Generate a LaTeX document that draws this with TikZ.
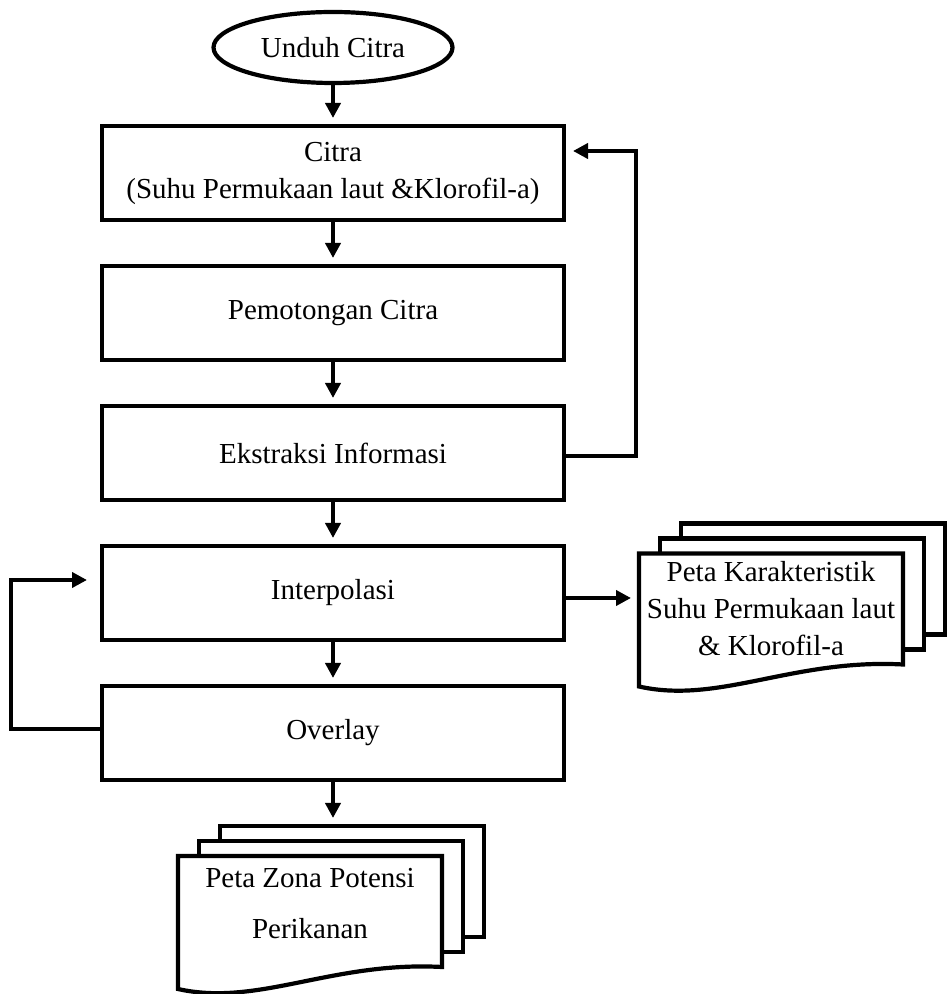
\documentclass[tikz,border=0pt]{standalone}
\usepackage{fontspec}
\setmainfont{Liberation Serif}
\usetikzlibrary{shapes, arrows, calc, positioning, backgrounds}
\usetikzlibrary{arrows.meta}

\begin{document}
\begin{tikzpicture}[
      x=1pt, y=1pt,
      node distance=46pt,
      every node/.style={font=\fontsize{29}{37}\selectfont, align=center, outer sep=0pt},
      start/.style={ellipse, draw, line width=4.2pt, minimum width=239pt, minimum height=71pt, inner sep=0pt},
      process/.style={rectangle, draw, line width=4.2pt, minimum width=462pt, minimum height=94pt, inner sep=0pt},
      docfront/.style={rectangle, minimum width=264pt, minimum height=111pt, inner sep=0pt},
      docline/.style={line width=4.2pt, fill=white},
      flow/.style={draw, -{Triangle[length=15pt, width=15pt]}, line width=4.2pt, shorten >=8pt}
    ]
    \useasboundingbox (0,0) rectangle (951,994);

    % Main flow
    \node[start] (unduh) at (333,946.5) {Unduh Citra};
    \node[process, below=43pt of unduh] (citra) {Citra\\(Suhu Permukaan laut \&Klorofil-a)};
    \node[process, below=of citra] (pemotongan) {Pemotongan Citra};
    \node[process, below=of pemotongan] (ekstraksi) {Ekstraksi Informasi};
    \node[process, below=of ekstraksi] (interpolasi) {Interpolasi};
    \node[process, below=of interpolasi] (overlay) {Overlay};

    % Output documents
    \node[docfront, right=75pt of interpolasi, yshift=-16pt] (karakteristik) {Peta Karakteristik\\Suhu Permukaan laut\\\& Klorofil-a};
    \node[docfront, below=76pt of overlay, xshift=-23pt] (zona) {};
    \node (zonateks) at ([yshift=8pt]zona.center) {Peta Zona Potensi\\[14pt]Perikanan};

    \begin{scope}[on background layer]
      \foreach \doc in {karakteristik, zona} {
        \draw[docline] ([shift={(42pt,30pt)}]\doc.south west) rectangle ([shift={(42pt,30pt)}]\doc.north east);
        \draw[docline] ([shift={(21pt,15pt)}]\doc.south west) rectangle ([shift={(21pt,15pt)}]\doc.north east);
        \draw[docline] (\doc.north west) -- ([yshift=-22pt]\doc.south west)
          .. controls +(80pt,-18pt) and +(-110pt,6pt) .. (\doc.south east) -- (\doc.north east) -- cycle;
      }
    \end{scope}

    % Arrows
    \draw[flow] (unduh) -- (citra);
    \draw[flow] (citra) -- (pemotongan);
    \draw[flow] (pemotongan) -- (ekstraksi);
    \draw[flow] (ekstraksi) -- (interpolasi);
    \draw[flow] (interpolasi) -- (overlay);
    \draw[flow] (overlay.south) -- ([yshift=30pt]overlay.south |- zona.north);
    \draw[flow] ([yshift=-5pt]interpolasi.east) -- ([yshift=-5pt]interpolasi.east -| karakteristik.west);

    % Feedback loops
    \draw[flow, shorten >=9pt] ([yshift=-3pt]ekstraksi.east) -- ++(72pt,0) |- ([yshift=22pt]citra.east);
    \draw[flow, shorten >=15pt] ([yshift=4pt]overlay.west) -- ++(-91pt,0) |- ([yshift=13pt]interpolasi.west);
\end{tikzpicture}
\end{document}
